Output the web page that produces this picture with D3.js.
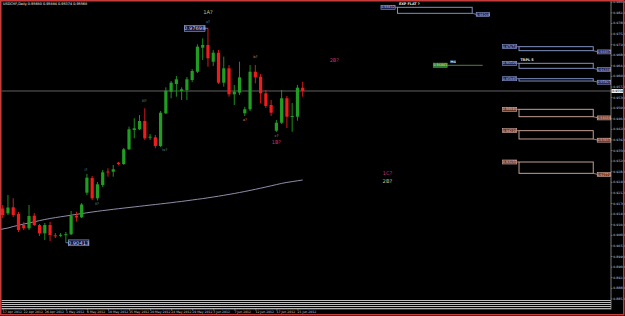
<!DOCTYPE html>
<html><head><meta charset="utf-8">
<script src="https://cdn.jsdelivr.net/npm/d3@7"></script>
<style>html,body{margin:0;padding:0;background:#000;overflow:hidden}svg{display:block}</style>
</head><body>
<svg id="c" width="625" height="316"></svg>
<script>
const symbolTitle = "USDCHF,Daily";
const dates = ["17 Apr 2012","18 Apr 2012","19 Apr 2012","20 Apr 2012","22 Apr 2012","23 Apr 2012","24 Apr 2012","25 Apr 2012","26 Apr 2012","27 Apr 2012","29 Apr 2012","30 Apr 2012","1 May 2012","2 May 2012","3 May 2012","4 May 2012","6 May 2012","7 May 2012","8 May 2012","9 May 2012","10 May 2012","11 May 2012","13 May 2012","14 May 2012","15 May 2012","16 May 2012","17 May 2012","18 May 2012","20 May 2012","21 May 2012","22 May 2012","23 May 2012","24 May 2012","25 May 2012","27 May 2012","28 May 2012","29 May 2012","30 May 2012","31 May 2012","1 Jun 2012","3 Jun 2012","4 Jun 2012","5 Jun 2012","6 Jun 2012","7 Jun 2012","8 Jun 2012","10 Jun 2012","11 Jun 2012","12 Jun 2012","13 Jun 2012","14 Jun 2012","15 Jun 2012","17 Jun 2012","18 Jun 2012","19 Jun 2012","20 Jun 2012","21 Jun 2012","22 Jun 2012"];
const open  = [0.91575,0.91412,0.91616,0.91388,0.91014,0.90902,0.91330,0.91014,0.90732,0.91014,0.90664,0.90668,0.90681,0.90698,0.91330,0.91276,0.92112,0.92611,0.91922,0.92374,0.92832,0.92825,0.93131,0.93087,0.93587,0.94242,0.94266,0.94548,0.93981,0.93994,0.93699,0.94810,0.95544,0.95805,0.95568,0.95602,0.95941,0.96223,0.97039,0.97131,0.96563,0.96869,0.95850,0.96339,0.95455,0.95510,0.94810,0.94946,0.96223,0.96053,0.95489,0.95092,0.94219,0.94490,0.95320,0.94684,0.94694,0.95680];
const high  = [0.91694,0.92034,0.91922,0.91456,0.91116,0.91694,0.91422,0.91048,0.91082,0.91116,0.90743,0.90743,0.90777,0.91490,0.91466,0.91762,0.92747,0.92679,0.92475,0.92883,0.92941,0.93053,0.93155,0.93631,0.94355,0.94640,0.94752,0.94980,0.94106,0.94072,0.94888,0.95693,0.95907,0.96077,0.95693,0.96043,0.96315,0.97154,0.97358,0.97698,0.96961,0.96961,0.96733,0.96451,0.95771,0.96563,0.95024,0.96451,0.96451,0.96145,0.95602,0.95262,0.94582,0.95602,0.95398,0.95160,0.95771,0.95884];
const low   = [0.91252,0.91354,0.91286,0.90777,0.90844,0.90844,0.90980,0.90641,0.90505,0.90471,0.90573,0.90607,0.90413,0.90675,0.91127,0.91252,0.92034,0.91864,0.91847,0.92306,0.92656,0.92656,0.93053,0.93053,0.93563,0.93960,0.94242,0.93903,0.93903,0.93621,0.93665,0.94786,0.95320,0.95374,0.95262,0.95262,0.95873,0.96179,0.96621,0.96393,0.96417,0.95805,0.95714,0.95374,0.95092,0.95432,0.94718,0.94888,0.95829,0.95150,0.94990,0.94718,0.94174,0.94446,0.94310,0.94185,0.94558,0.95374];
const close = [0.91354,0.91609,0.91354,0.90844,0.90902,0.91320,0.91014,0.90732,0.91014,0.90675,0.90647,0.90681,0.90702,0.91320,0.91269,0.91711,0.92622,0.91922,0.92397,0.92805,0.92815,0.92907,0.93087,0.93587,0.94266,0.94300,0.94548,0.93960,0.94015,0.93699,0.94830,0.95578,0.95850,0.95965,0.95625,0.95965,0.96247,0.97073,0.97131,0.96679,0.96869,0.95850,0.96339,0.95455,0.95544,0.96033,0.94946,0.96223,0.96033,0.95489,0.95058,0.94830,0.94490,0.95320,0.94694,0.94718,0.95680,0.95568];
const ma200 = [0.90861,0.90912,0.90963,0.91004,0.91048,0.91082,0.91123,0.91164,0.91201,0.91235,0.91266,0.91293,0.91320,0.91347,0.91375,0.91402,0.91429,0.91456,0.91480,0.91504,0.91524,0.91548,0.91568,0.91589,0.91609,0.91629,0.91650,0.91670,0.91691,0.91711,0.91731,0.91752,0.91772,0.91796,0.91816,0.91840,0.91864,0.91888,0.91911,0.91939,0.91966,0.91993,0.92024,0.92054,0.92085,0.92119,0.92153,0.92190,0.92227,0.92265,0.92306,0.92346,0.92387,0.92428,0.92462,0.92489,0.92516,0.92543];
const priceTicks = [0.98600,0.98240,0.97880,0.97520,0.97160,0.96800,0.96440,0.96080,0.95720,0.95360,0.95000,0.94640,0.94280,0.93920,0.93560,0.93200,0.92840,0.92480,0.92120,0.91760,0.91400,0.91040,0.90680,0.90320,0.89960,0.89600,0.89240,0.88880,0.88520];
const currentPrice = 0.95568;
const extremePrice = [0.97698, 0.90413];
const extremeBar = [39, 12];
// price zones (bar index extends into the future)
const zoneName   = ["EXP FLAT ?", "", "TRPL 5", "", "", "", ""];
const zoneKind   = ["up","up","up","up","down","down","down"];
const zoneTop    = [0.98412,0.97073,0.96509,0.95985,0.94946,0.94219,0.93155];
const zoneBottom = [0.98208,0.96937,0.96339,0.95907,0.94694,0.93937,0.92771];
const zoneFrom   = [75.0,98.1,98.1,98.1,98.1,98.1,98.1];
const zoneTo     = [89.2,112.2,112.2,112.2,112.2,112.2,112.2];
// single level line
const levelName = "M4", levelPrice = 0.96441, levelFrom = 81.8, levelTo = 91.2;
// wave labels
const waveText  = ["i?","ii?","iii?","iv?","v?","1A?","a?","b?","c?","1B?","2B?","1C?","2B?"];
const waveKind  = ["minor","minor","minor","minor","minor","major","ab","ab","ab","alt","alt","alt","major"];
const waveBar   = [15.8,17.9,26.9,30.8,39,39,46,48,52,52,63.0,73.1,73.1];
const wavePrice = [0.92907,0.91752,0.95228,0.93563,0.97922,0.98242,0.94582,0.96740,0.94038,0.93824,0.96621,0.92771,0.92509];
// horizontal lines at the bottom
const bottomLevels = [0.88483,0.88415,0.88347,0.88279,0.88211];

const svg = d3.select("#c");
svg.append("rect").attr("width",625).attr("height",316).attr("fill","#000");

const x = d3.scaleLinear().domain([0,57]).range([2.7,302.7]);
const y = d3.scaleLinear().domain([0.90413,0.97698]).range([242.7,28.3]);
const font = "Tahoma, 'DejaVu Sans', Arial, sans-serif";

// bottom grey lines
svg.append("g").selectAll("line").data(bottomLevels).join("line")
  .attr("x1",1.5).attr("x2",611).attr("y1",d=>Math.round(y(d))+0.5).attr("y2",d=>Math.round(y(d))+0.5)
  .attr("stroke","#bdbdbd").attr("stroke-width",1);

// current price line
svg.append("line").attr("x1",1.5).attr("x2",611).attr("y1",y(currentPrice)).attr("y2",y(currentPrice))
  .attr("stroke","#7a7a7a").attr("stroke-width",0.8);

// MA line
svg.append("path").datum(ma200)
  .attr("d", d3.line().x((d,i)=>i===0?0:x(i)).y(d=>y(d)))
  .attr("fill","none").attr("stroke","#a29cbc").attr("stroke-width",0.9);

// candles
const idx = d3.range(dates.length);
const cg = svg.append("g");
const colorOf = i => close[i] >= open[i] ? "#1f9e22" : "#ee1c1c";
cg.selectAll("line").data(idx).join("line")
  .attr("x1",i=>x(i)).attr("x2",i=>x(i)).attr("y1",i=>y(high[i])).attr("y2",i=>y(low[i]))
  .attr("stroke",colorOf).attr("stroke-width",0.9);
cg.selectAll("rect").data(idx).join("rect")
  .attr("x",i=>x(i)-1.6).attr("width",3.2)
  .attr("y",i=>Math.min(y(open[i]),y(close[i])))
  .attr("height",i=>Math.max(1,Math.abs(y(open[i])-y(close[i]))))
  .attr("fill",colorOf);

// extreme price labels
extremePrice.forEach((p,k)=>{
  const bx = k===0 ? x(extremeBar[k]) - 23.5 : x(extremeBar[k]) + 2.5;
  const g = svg.append("g");
  const lx1 = k===0 ? bx+20.5 : x(extremeBar[k]);
  const lx2 = k===0 ? x(extremeBar[k]) : bx;
  g.append("line").attr("x1",lx1).attr("x2",lx2).attr("y1",y(p)).attr("y2",y(p)).attr("stroke","#8c96d8").attr("stroke-width",0.7);
  g.append("rect").attr("x",bx).attr("y",y(p)-2.8).attr("width",20.5).attr("height",5.8)
    .attr("fill","#14163a").attr("stroke","#8c96d8").attr("stroke-width",0.7);
  g.append("text").attr("x",bx+10.25).attr("y",y(p)+1.9).attr("text-anchor","middle")
    .attr("font-family",font).attr("font-size",5.2).attr("fill","#c8cff5").text(p.toFixed(5));
});

// zones
const zoneStyle = {
  up:   {stroke:"#8ea0d4", fill:"#1c2250", text:"#c9d2f6"},
  down: {stroke:"#d8b0a2", fill:"#6a3424", text:"#f3d9cc"}
};
zoneTop.forEach((t,k)=>{
  const st = zoneStyle[zoneKind[k]];
  const g = svg.append("g");
  const x0 = x(zoneFrom[k]), x1 = x(zoneTo[k]);
  g.append("rect").attr("x",x0).attr("y",y(t)).attr("width",x1-x0).attr("height",y(zoneBottom[k])-y(t))
    .attr("fill","none").attr("stroke",st.stroke).attr("stroke-width",0.9);
  g.append("line").attr("x1",x0-2.5).attr("x2",x0).attr("y1",y(t)).attr("y2",y(t)).attr("stroke",st.stroke).attr("stroke-width",0.7);
  g.append("rect").attr("x",x0-16.5).attr("y",y(t)-2).attr("width",14.2).attr("height",4)
    .attr("fill",st.fill).attr("stroke",st.stroke).attr("stroke-width",0.6);
  g.append("text").attr("x",x0-9.4).attr("y",y(t)+1.2).attr("text-anchor","middle")
    .attr("font-family",font).attr("font-size",3.3).attr("fill",st.text).text(t.toFixed(5));
  const b = zoneBottom[k];
  g.append("line").attr("x1",x1).attr("x2",x1+4).attr("y1",y(b)).attr("y2",y(b)+1).attr("stroke",st.stroke).attr("stroke-width",0.7);
  g.append("rect").attr("x",x1+4).attr("y",y(b)-0.8).attr("width",13.5).attr("height",4)
    .attr("fill",st.fill).attr("stroke",st.stroke).attr("stroke-width",0.6);
  g.append("text").attr("x",x1+10.75).attr("y",y(b)+2.4).attr("text-anchor","middle")
    .attr("font-family",font).attr("font-size",3.3).attr("fill",st.text).text(b.toFixed(5));
  if (zoneName[k]) {
    g.append("text").attr("x",x0+1.5).attr("y",y(t)-2.2)
      .attr("font-family",font).attr("font-size",3.4).attr("font-weight","bold").attr("fill","#e8e8e8").text(zoneName[k]);
  }
});

// level line
{
  const g = svg.append("g");
  const x0 = x(levelFrom), x1 = x(levelTo), ly = y(levelPrice);
  g.append("line").attr("x1",x0+14).attr("x2",x1).attr("y1",ly).attr("y2",ly).attr("stroke","#6f9a5a").attr("stroke-width",0.8);
  g.append("rect").attr("x",x0).attr("y",ly-2.2).attr("width",14).attr("height",4.4)
    .attr("fill","#2f7a2a").attr("stroke","#5ea84e").attr("stroke-width",0.5);
  g.append("text").attr("x",x0+7).attr("y",ly+1.2).attr("text-anchor","middle")
    .attr("font-family",font).attr("font-size",3.3).attr("fill","#d8f5d0").text(levelPrice.toFixed(5));
  g.append("text").attr("x",x0+17).attr("y",ly-2.6)
    .attr("font-family",font).attr("font-size",3.4).attr("font-weight","bold").attr("fill","#e8e8e8").text(levelName);
}

// wave labels
const waveStyle = {
  minor:{fill:"#5aa8ae", size:3.5, weight:"normal"},
  major:{fill:"#c9c27a", size:5.2, weight:"normal"},
  ab:{fill:"#d08a4a", size:3.6, weight:"normal"},
  alt:{fill:"#c8326e", size:5.0, weight:"normal"}
};
svg.append("g").selectAll("text").data(waveText).join("text")
  .attr("x",(d,i)=>x(waveBar[i])).attr("y",(d,i)=>y(wavePrice[i]))
  .attr("dy","0.35em").attr("text-anchor","middle")
  .attr("font-family",font)
  .attr("font-weight",(d,i)=>waveStyle[waveKind[i]].weight)
  .attr("font-size",(d,i)=>waveStyle[waveKind[i]].size)
  .attr("fill",(d,i)=>waveStyle[waveKind[i]].fill).text(d=>d);

// price axis
const ya = svg.append("g").attr("transform","translate(611,0)")
  .call(d3.axisRight(y).tickValues(priceTicks).tickSize(1.5).tickPadding(0.8).tickFormat(d3.format(".5f")));
ya.select(".domain").remove();
ya.selectAll(".tick line").attr("stroke","#a0a0a0").attr("stroke-width",0.6);
ya.selectAll(".tick text").attr("font-family",font).attr("font-size",3.1).attr("fill","#c8c8c8");
svg.append("line").attr("x1",611).attr("x2",611).attr("y1",0).attr("y2",309.5).attr("stroke","#9a9a9a").attr("stroke-width",0.8);

// current price tag
svg.append("rect").attr("x",611.5).attr("y",y(currentPrice)-2).attr("width",11.5).attr("height",4).attr("fill","#f2f2f2");
svg.append("text").attr("x",612.3).attr("y",y(currentPrice)+1.2).attr("font-family",font).attr("font-size",3.1)
  .attr("fill","#000").text(currentPrice.toFixed(5));

// date axis
const xa = svg.append("g").attr("transform","translate(0,309)")
  .call(d3.axisBottom(x).tickValues(idx.filter(i=>i%4===0)).tickSize(1.5).tickPadding(0.5).tickFormat(i=>dates[i]));
xa.select(".domain").remove();
xa.selectAll(".tick line").attr("stroke","#a0a0a0").attr("stroke-width",0.6);
xa.selectAll(".tick text").attr("text-anchor","start").attr("x",-0.4).attr("dy","0.75em")
  .attr("font-family",font).attr("font-size",3.1).attr("fill","#c8c8c8");
svg.append("line").attr("x1",1.5).attr("x2",611).attr("y1",309).attr("y2",309).attr("stroke","#9a9a9a").attr("stroke-width",0.8);

// title
svg.append("text").attr("x",3).attr("y",5)
  .attr("font-family",font).attr("font-size",3.4).attr("fill","#ffffff")
  .text(`${symbolTitle}  ${open[57].toFixed(5)} ${high[57].toFixed(5)} ${low[57].toFixed(5)} ${close[57].toFixed(5)}`);

// window border
svg.append("rect").attr("x",0.75).attr("y",0.75).attr("width",623).attr("height",314)
  .attr("fill","none").attr("stroke","#c43c3c").attr("stroke-width",1.5);
</script>
</body></html>
